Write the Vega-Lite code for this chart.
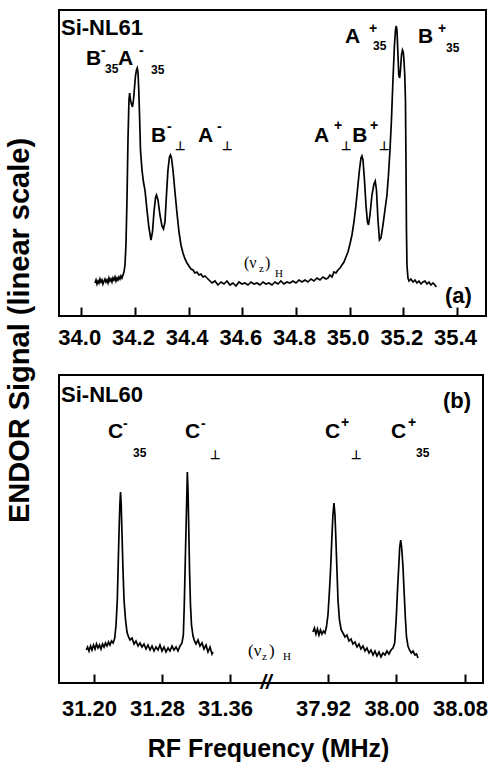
{
"$schema": "https://vega.github.io/schema/vega-lite/v6.json",
"background": "white",
"padding": {"left": 3, "top": 9, "right": 0, "bottom": 0},
"config": {
  "view": {"stroke": "black", "strokeWidth": 2},
  "font": "Liberation Sans",
  "text": {"fill": "black"},
  "axis": {"labelFont": "Liberation Sans", "labelFontWeight": "bold", "labelColor": "black", "titleFont": "Liberation Sans", "titleFontWeight": "bold", "titleColor": "black", "domainColor": "black", "tickColor": "black", "grid": false}
},
"datasets": {
  "top": [
{"f":34.0510,"s":33},{"f":34.0548,"s":36},{"f":34.0585,"s":32},{"f":34.0622,"s":35},{"f":34.0659,"s":33},{"f":34.0697,"s":37},{"f":34.0734,"s":34},{"f":34.0771,"s":36},{"f":34.0808,"s":32},{"f":34.0846,"s":35},{"f":34.0883,"s":37},{"f":34.0920,"s":34},{"f":34.0958,"s":36},{"f":34.0995,"s":33},{"f":34.1032,"s":38},{"f":34.1069,"s":35},{"f":34.1107,"s":37},{"f":34.1144,"s":34},{"f":34.1181,"s":38},{"f":34.1218,"s":36},{"f":34.1256,"s":39},{"f":34.1293,"s":35},{"f":34.1330,"s":38},{"f":34.1367,"s":36},{"f":34.1405,"s":39},{"f":34.1442,"s":37},{"f":34.1479,"s":40},{"f":34.1516,"s":38},{"f":34.1554,"s":41},{"f":34.1591,"s":44},{"f":34.1628,"s":51},{"f":34.1665,"s":71},{"f":34.1703,"s":116},{"f":34.1740,"s":176},{"f":34.1777,"s":216},{"f":34.1803,"s":223},{"f":34.1833,"s":216},{"f":34.1870,"s":212},{"f":34.1908,"s":209},{"f":34.1945,"s":216},{"f":34.1982,"s":228},{"f":34.2019,"s":240},{"f":34.2057,"s":246},{"f":34.2086,"s":248},{"f":34.2113,"s":244},{"f":34.2142,"s":226},{"f":34.2176,"s":196},{"f":34.2206,"s":166},{"f":34.2262,"s":146},{"f":34.2317,"s":134},{"f":34.2373,"s":126},{"f":34.2448,"s":106},{"f":34.2522,"s":88},{"f":34.2597,"s":76},{"f":34.2653,"s":84},{"f":34.2709,"s":104},{"f":34.2765,"s":118},{"f":34.2802,"s":121},{"f":34.2858,"s":116},{"f":34.2932,"s":101},{"f":34.3007,"s":90},{"f":34.3063,"s":87},{"f":34.3119,"s":94},{"f":34.3174,"s":121},{"f":34.3230,"s":146},{"f":34.3286,"s":159},{"f":34.3323,"s":161},{"f":34.3361,"s":158},{"f":34.3417,"s":146},{"f":34.3491,"s":124},{"f":34.3566,"s":103},{"f":34.3640,"s":84},{"f":34.3715,"s":71},{"f":34.3789,"s":63},{"f":34.3864,"s":57},{"f":34.3938,"s":53},{"f":34.4013,"s":50},{"f":34.4087,"s":47},{"f":34.4162,"s":46},{"f":34.4236,"s":43},{"f":34.4311,"s":44},{"f":34.4385,"s":41},{"f":34.4460,"s":42},{"f":34.4534,"s":39},{"f":34.4609,"s":40},{"f":34.4683,"s":38},
{"f":34.4758,"s":36},{"f":34.4870,"s":33},{"f":34.4981,"s":35},{"f":34.5093,"s":31},{"f":34.5205,"s":34},{"f":34.5317,"s":32},{"f":34.5428,"s":35},{"f":34.5540,"s":31},{"f":34.5652,"s":33},{"f":34.5764,"s":30},{"f":34.5876,"s":34},{"f":34.5987,"s":32},{"f":34.6099,"s":33},{"f":34.6211,"s":31},{"f":34.6323,"s":34},{"f":34.6434,"s":32},{"f":34.6546,"s":33},{"f":34.6658,"s":31},{"f":34.6770,"s":34},{"f":34.6882,"s":32},{"f":34.6993,"s":33},{"f":34.7105,"s":31},{"f":34.7217,"s":34},{"f":34.7329,"s":32},{"f":34.7440,"s":35},{"f":34.7552,"s":32},{"f":34.7664,"s":34},{"f":34.7776,"s":33},{"f":34.7888,"s":35},{"f":34.7999,"s":33},{"f":34.8111,"s":36},{"f":34.8223,"s":34},{"f":34.8335,"s":36},{"f":34.8446,"s":34},{"f":34.8558,"s":37},{"f":34.8670,"s":35},{"f":34.8782,"s":38},{"f":34.8894,"s":36},{"f":34.9005,"s":39},{"f":34.9117,"s":37},
{"f":34.9192,"s":38},{"f":34.9266,"s":41},{"f":34.9341,"s":39},{"f":34.9415,"s":44},{"f":34.9490,"s":43},{"f":34.9564,"s":46},{"f":34.9639,"s":48},{"f":34.9713,"s":51},{"f":34.9788,"s":54},{"f":34.9862,"s":59},{"f":34.9937,"s":64},{"f":35.0011,"s":72},{"f":35.0086,"s":81},{"f":35.0160,"s":94},{"f":35.0235,"s":111},{"f":35.0309,"s":131},{"f":35.0365,"s":146},{"f":35.0421,"s":158},{"f":35.0458,"s":160},{"f":35.0496,"s":156},{"f":35.0552,"s":136},{"f":35.0607,"s":111},{"f":35.0663,"s":94},{"f":35.0701,"s":91},{"f":35.0756,"s":101},{"f":35.0831,"s":121},{"f":35.0905,"s":132},{"f":35.0954,"s":135},{"f":35.0999,"s":126},{"f":35.1055,"s":96},{"f":35.1110,"s":76},{"f":35.1166,"s":78},{"f":35.1241,"s":91},{"f":35.1315,"s":106},{"f":35.1390,"s":121},{"f":35.1446,"s":141},{"f":35.1502,"s":166},{"f":35.1557,"s":196},{"f":35.1613,"s":236},{"f":35.1669,"s":271},{"f":35.1707,"s":286},{"f":35.1736,"s":290},{"f":35.1762,"s":286},{"f":35.1800,"s":261},{"f":35.1830,"s":241},{"f":35.1863,"s":238},{"f":35.1893,"s":246},{"f":35.1930,"s":261},{"f":35.1967,"s":266},{"f":35.1997,"s":264},{"f":35.2023,"s":256},{"f":35.2053,"s":241},{"f":35.2079,"s":216},{"f":35.2098,"s":156},{"f":35.2116,"s":86},{"f":35.2135,"s":51},{"f":35.2172,"s":38},{"f":35.2210,"s":35},{"f":35.2284,"s":37},{"f":35.2359,"s":34},{"f":35.2433,"s":36},{"f":35.2508,"s":33},{"f":35.2582,"s":35},{"f":35.2657,"s":32},{"f":35.2731,"s":34},{"f":35.2806,"s":35},{"f":35.2880,"s":32},{"f":35.2955,"s":34},{"f":35.3029,"s":31},{"f":35.3104,"s":33},{"f":35.3178,"s":31},{"f":35.3227,"s":29}
  ],
  "bot": [
{"seg":"L","f":31.1909,"s":33},{"seg":"L","f":31.1924,"s":36},{"seg":"L","f":31.1941,"s":32},{"seg":"L","f":31.1959,"s":37},{"seg":"L","f":31.1976,"s":33},{"seg":"L","f":31.1994,"s":38},{"seg":"L","f":31.2012,"s":34},{"seg":"L","f":31.2029,"s":39},{"seg":"L","f":31.2047,"s":35},{"seg":"L","f":31.2065,"s":38},{"seg":"L","f":31.2082,"s":34},{"seg":"L","f":31.2100,"s":39},{"seg":"L","f":31.2118,"s":36},{"seg":"L","f":31.2135,"s":40},{"seg":"L","f":31.2153,"s":37},{"seg":"L","f":31.2171,"s":41},{"seg":"L","f":31.2188,"s":38},{"seg":"L","f":31.2206,"s":42},{"seg":"L","f":31.2224,"s":40},{"seg":"L","f":31.2244,"s":45},{"seg":"L","f":31.2259,"s":58},{"seg":"L","f":31.2274,"s":83},{"seg":"L","f":31.2286,"s":123},{"seg":"L","f":31.2294,"s":150},{"seg":"L","f":31.2304,"s":178},{"seg":"L","f":31.2312,"s":191},{"seg":"L","f":31.2320,"s":178},{"seg":"L","f":31.2329,"s":150},{"seg":"L","f":31.2341,"s":113},{"seg":"L","f":31.2353,"s":83},{"seg":"L","f":31.2371,"s":63},{"seg":"L","f":31.2388,"s":51},{"seg":"L","f":31.2406,"s":46},{"seg":"L","f":31.2424,"s":43},{"seg":"L","f":31.2447,"s":45},{"seg":"L","f":31.2471,"s":39},{"seg":"L","f":31.2494,"s":42},{"seg":"L","f":31.2518,"s":37},{"seg":"L","f":31.2541,"s":40},{"seg":"L","f":31.2565,"s":36},{"seg":"L","f":31.2588,"s":39},{"seg":"L","f":31.2612,"s":34},{"seg":"L","f":31.2635,"s":38},{"seg":"L","f":31.2659,"s":33},{"seg":"L","f":31.2682,"s":37},{"seg":"L","f":31.2706,"s":32},{"seg":"L","f":31.2729,"s":36},{"seg":"L","f":31.2753,"s":33},{"seg":"L","f":31.2776,"s":38},{"seg":"L","f":31.2800,"s":32},{"seg":"L","f":31.2824,"s":36},{"seg":"L","f":31.2847,"s":31},{"seg":"L","f":31.2871,"s":35},{"seg":"L","f":31.2894,"s":32},{"seg":"L","f":31.2918,"s":37},{"seg":"L","f":31.2941,"s":33},{"seg":"L","f":31.2965,"s":36},{"seg":"L","f":31.2988,"s":32},{"seg":"L","f":31.3012,"s":37},{"seg":"L","f":31.3035,"s":40},{"seg":"L","f":31.3051,"s":48},{"seg":"L","f":31.3062,"s":78},{"seg":"L","f":31.3074,"s":123},{"seg":"L","f":31.3086,"s":166},{"seg":"L","f":31.3098,"s":211},{"seg":"L","f":31.3106,"s":193},{"seg":"L","f":31.3114,"s":158},{"seg":"L","f":31.3124,"s":113},{"seg":"L","f":31.3135,"s":78},{"seg":"L","f":31.3147,"s":58},{"seg":"L","f":31.3165,"s":47},{"seg":"L","f":31.3182,"s":42},{"seg":"L","f":31.3200,"s":39},{"seg":"L","f":31.3224,"s":43},{"seg":"L","f":31.3247,"s":37},{"seg":"L","f":31.3271,"s":40},{"seg":"L","f":31.3294,"s":34},{"seg":"L","f":31.3318,"s":38},{"seg":"L","f":31.3341,"s":31},{"seg":"L","f":31.3365,"s":36},{"seg":"L","f":31.3388,"s":29},{"seg":"L","f":31.3400,"s":31},
{"seg":"R","f":37.9025,"s":51},{"seg":"R","f":37.9042,"s":55},{"seg":"R","f":37.9060,"s":49},{"seg":"R","f":37.9077,"s":54},{"seg":"R","f":37.9095,"s":48},{"seg":"R","f":37.9112,"s":53},{"seg":"R","f":37.9130,"s":49},{"seg":"R","f":37.9147,"s":52},{"seg":"R","f":37.9165,"s":50},{"seg":"R","f":37.9182,"s":56},{"seg":"R","f":37.9200,"s":68},{"seg":"R","f":37.9218,"s":93},{"seg":"R","f":37.9232,"s":116},{"seg":"R","f":37.9247,"s":148},{"seg":"R","f":37.9258,"s":168},{"seg":"R","f":37.9270,"s":180},{"seg":"R","f":37.9282,"s":168},{"seg":"R","f":37.9290,"s":150},{"seg":"R","f":37.9303,"s":118},{"seg":"R","f":37.9317,"s":83},{"seg":"R","f":37.9334,"s":63},{"seg":"R","f":37.9355,"s":53},{"seg":"R","f":37.9375,"s":50},{"seg":"R","f":37.9399,"s":46},{"seg":"R","f":37.9422,"s":48},{"seg":"R","f":37.9445,"s":42},{"seg":"R","f":37.9469,"s":44},{"seg":"R","f":37.9492,"s":39},{"seg":"R","f":37.9515,"s":41},{"seg":"R","f":37.9539,"s":36},{"seg":"R","f":37.9562,"s":39},{"seg":"R","f":37.9585,"s":34},{"seg":"R","f":37.9609,"s":37},{"seg":"R","f":37.9632,"s":32},{"seg":"R","f":37.9655,"s":35},{"seg":"R","f":37.9679,"s":30},{"seg":"R","f":37.9702,"s":33},{"seg":"R","f":37.9726,"s":28},{"seg":"R","f":37.9749,"s":32},{"seg":"R","f":37.9772,"s":27},{"seg":"R","f":37.9796,"s":31},{"seg":"R","f":37.9819,"s":26},{"seg":"R","f":37.9842,"s":30},{"seg":"R","f":37.9866,"s":28},{"seg":"R","f":37.9889,"s":32},{"seg":"R","f":37.9912,"s":29},{"seg":"R","f":37.9936,"s":33},{"seg":"R","f":37.9959,"s":35},{"seg":"R","f":37.9979,"s":40},{"seg":"R","f":37.9998,"s":66},{"seg":"R","f":38.0012,"s":93},{"seg":"R","f":38.0026,"s":116},{"seg":"R","f":38.0037,"s":135},{"seg":"R","f":38.0049,"s":143},{"seg":"R","f":38.0061,"s":135},{"seg":"R","f":38.0076,"s":116},{"seg":"R","f":38.0088,"s":93},{"seg":"R","f":38.0103,"s":66},{"seg":"R","f":38.0117,"s":46},{"seg":"R","f":38.0134,"s":37},{"seg":"R","f":38.0152,"s":33},{"seg":"R","f":38.0173,"s":30},{"seg":"R","f":38.0193,"s":32},{"seg":"R","f":38.0216,"s":28},{"seg":"R","f":38.0234,"s":29},{"seg":"R","f":38.0251,"s":25}
  ],
  "topLab": [
{"f":33.9244,"s":281,"t":"Si-NL61","k":"T"},{"f":35.3549,"s":13,"t":"(a)","k":"T"},
{"f":34.0175,"s":251,"t":"B","k":"m"},{"f":34.0738,"s":261,"t":"-","k":"p"},{"f":34.0883,"s":243,"t":"35","k":"b"},
{"f":34.1367,"s":251,"t":"A","k":"m"},{"f":34.2150,"s":261,"t":"-","k":"p"},{"f":34.2597,"s":242,"t":"35","k":"b"},
{"f":34.2597,"s":174,"t":"B","k":"m"},{"f":34.3193,"s":185,"t":"-","k":"p"},{"f":34.3491,"s":166,"t":"⊥","k":"b"},
{"f":34.4348,"s":174,"t":"A","k":"m"},{"f":34.5056,"s":185,"t":"-","k":"p"},{"f":34.5242,"s":166,"t":"⊥","k":"b"},
{"f":34.8670,"s":174,"t":"A","k":"m"},{"f":34.9420,"s":186,"t":"+","k":"p"},{"f":34.9660,"s":166,"t":"⊥","k":"b"},
{"f":35.0100,"s":174,"t":"B","k":"m"},{"f":35.0760,"s":186,"t":"+","k":"p"},{"f":35.1110,"s":166,"t":"⊥","k":"b"},
{"f":34.9825,"s":273,"t":"A","k":"m"},{"f":35.0720,"s":283,"t":"+","k":"p"},{"f":35.0869,"s":266,"t":"35","k":"b"},
{"f":35.2545,"s":273,"t":"B","k":"m"},{"f":35.3290,"s":283,"t":"+","k":"p"},{"f":35.3588,"s":264,"t":"35","k":"b"},
{"f":34.6062,"s":48,"t":"(ν","k":"n"},{"f":34.6621,"s":44,"t":"z","k":"h"},{"f":34.6844,"s":48,"t":")","k":"n"},{"f":34.7217,"s":39,"t":"H","k":"h"}
  ],
  "botLab": [
{"f":31.1612,"s":281,"t":"Si-NL60","k":"T"},{"f":38.0543,"s":275,"t":"(b)","k":"T"},
{"f":31.2165,"s":245,"t":"C","k":"m"},{"f":31.2341,"s":255,"t":"-","k":"p"},{"f":31.2459,"s":226,"t":"35","k":"b"},
{"f":31.3071,"s":245,"t":"C","k":"m"},{"f":31.3259,"s":255,"t":"-","k":"p"},{"f":31.3365,"s":224,"t":"⊥","k":"b"},
{"f":37.9165,"s":245,"t":"C","k":"m"},{"f":37.9352,"s":256,"t":"+","k":"p"},{"f":37.9469,"s":224,"t":"⊥","k":"b"},
{"f":37.9936,"s":245,"t":"C","k":"m"},{"f":38.0134,"s":256,"t":"+","k":"p"},{"f":38.0228,"s":226,"t":"35","k":"b"},
{"f":31.3812,"s":27,"t":"(ν","k":"n"},{"f":31.3976,"s":23,"t":"z","k":"h"},{"f":37.8511,"s":27,"t":")","k":"n"},{"f":37.8674,"s":23,"t":"H","k":"h"},
{"f":34.6,"s":0,"t":"//","k":"x"}
  ]
},
"bounds": "flush",
"spacing": 59,
"vconcat": [
{
  "width": 427, "height": 306,
  "layer": [
    {"data": {"name": "top"},
     "mark": {"type": "line", "color": "black", "strokeWidth": 1.7},
     "encoding": {
       "x": {"field": "f", "type": "quantitative", "scale": {"domain": [33.917, 35.508], "nice": false, "zero": false},
             "axis": {"values": [34.0, 34.2, 34.4, 34.6, 34.8, 35.0, 35.2, 35.4], "format": ".1f", "title": null, "domain": false, "tickSize": -9, "tickWidth": 2, "labelFontSize": 22, "labelPadding": 20, "labelOffset": -2}},
       "y": {"field": "s", "type": "quantitative", "scale": {"domain": [0, 306], "nice": false, "zero": false},
             "axis": {"labels": false, "ticks": false, "domain": false, "title": "ENDOR Signal (linear scale)", "titleFontSize": 29, "titleAngle": 270, "titleX": -31, "titleY": 320, "titleBaseline": "alphabetic", "titleAlign": "center"}}
     }},
    {"data": {"name": "topLab"}, "transform": [{"filter": "datum.k == 'T'"}],
     "mark": {"type": "text", "align": "left", "baseline": "alphabetic", "fontSize": 22, "fontWeight": "bold", "color": "black", "fill": "black"},
     "encoding": {"x": {"field": "f", "type": "quantitative"}, "y": {"field": "s", "type": "quantitative"}, "text": {"field": "t"}}},
    {"data": {"name": "topLab"}, "transform": [{"filter": "datum.k == 'm'"}],
     "mark": {"type": "text", "align": "left", "baseline": "alphabetic", "fontSize": 21, "fontWeight": "bold", "color": "black", "fill": "black"},
     "encoding": {"x": {"field": "f", "type": "quantitative"}, "y": {"field": "s", "type": "quantitative"}, "text": {"field": "t"}}},
    {"data": {"name": "topLab"}, "transform": [{"filter": "datum.k == 'p'"}],
     "mark": {"type": "text", "align": "left", "baseline": "alphabetic", "fontSize": 14, "fontWeight": "bold", "color": "black", "fill": "black"},
     "encoding": {"x": {"field": "f", "type": "quantitative"}, "y": {"field": "s", "type": "quantitative"}, "text": {"field": "t"}}},
    {"data": {"name": "topLab"}, "transform": [{"filter": "datum.k == 'b'"}],
     "mark": {"type": "text", "align": "left", "baseline": "alphabetic", "fontSize": 12, "fontWeight": "bold", "color": "black", "fill": "black"},
     "encoding": {"x": {"field": "f", "type": "quantitative"}, "y": {"field": "s", "type": "quantitative"}, "text": {"field": "t"}}},
    {"data": {"name": "topLab"}, "transform": [{"filter": "datum.k == 'n'"}],
     "mark": {"type": "text", "align": "left", "baseline": "alphabetic", "fontSize": 16, "font": "Liberation Serif", "color": "black", "fill": "black"},
     "encoding": {"x": {"field": "f", "type": "quantitative"}, "y": {"field": "s", "type": "quantitative"}, "text": {"field": "t"}}},
    {"data": {"name": "topLab"}, "transform": [{"filter": "datum.k == 'h'"}],
     "mark": {"type": "text", "align": "left", "baseline": "alphabetic", "fontSize": 11, "font": "Liberation Serif", "color": "black", "fill": "black"},
     "encoding": {"x": {"field": "f", "type": "quantitative"}, "y": {"field": "s", "type": "quantitative"}, "text": {"field": "t"}}}
  ]
},
{
  "width": 424, "height": 308,
  "layer": [
    {"data": {"name": "bot"},
     "mark": {"type": "line", "color": "black", "strokeWidth": 1.7},
     "encoding": {
       "x": {"field": "f", "type": "quantitative", "scale": {"domain": [31.1588, 31.40, 37.85, 38.101], "range": [0, 205, 209, 424], "nice": false, "zero": false},
             "axis": {"values": [31.20, 31.28, 31.36, 37.92, 38.00, 38.08], "format": ".2f", "domain": false, "tickSize": -9, "tickWidth": 2, "labelFontSize": 22, "labelPadding": 24, "labelOffset": -5, "title": "RF Frequency (MHz)", "titleFontSize": 25, "titleX": 209, "titleY": 73, "titleBaseline": "alphabetic"}},
       "y": {"field": "s", "type": "quantitative", "scale": {"domain": [0, 308], "nice": false, "zero": false}, "axis": null},
       "detail": {"field": "seg"}
     }},
    {"data": {"name": "botLab"}, "transform": [{"filter": "datum.k == 'T'"}],
     "mark": {"type": "text", "align": "left", "baseline": "alphabetic", "fontSize": 22, "fontWeight": "bold", "color": "black", "fill": "black"},
     "encoding": {"x": {"field": "f", "type": "quantitative"}, "y": {"field": "s", "type": "quantitative"}, "text": {"field": "t"}}},
    {"data": {"name": "botLab"}, "transform": [{"filter": "datum.k == 'm'"}],
     "mark": {"type": "text", "align": "left", "baseline": "alphabetic", "fontSize": 21, "fontWeight": "bold", "color": "black", "fill": "black"},
     "encoding": {"x": {"field": "f", "type": "quantitative"}, "y": {"field": "s", "type": "quantitative"}, "text": {"field": "t"}}},
    {"data": {"name": "botLab"}, "transform": [{"filter": "datum.k == 'p'"}],
     "mark": {"type": "text", "align": "left", "baseline": "alphabetic", "fontSize": 14, "fontWeight": "bold", "color": "black", "fill": "black"},
     "encoding": {"x": {"field": "f", "type": "quantitative"}, "y": {"field": "s", "type": "quantitative"}, "text": {"field": "t"}}},
    {"data": {"name": "botLab"}, "transform": [{"filter": "datum.k == 'b'"}],
     "mark": {"type": "text", "align": "left", "baseline": "alphabetic", "fontSize": 12, "fontWeight": "bold", "color": "black", "fill": "black"},
     "encoding": {"x": {"field": "f", "type": "quantitative"}, "y": {"field": "s", "type": "quantitative"}, "text": {"field": "t"}}},
    {"data": {"name": "botLab"}, "transform": [{"filter": "datum.k == 'n'"}],
     "mark": {"type": "text", "align": "left", "baseline": "alphabetic", "fontSize": 17, "font": "Liberation Serif", "color": "black", "fill": "black"},
     "encoding": {"x": {"field": "f", "type": "quantitative"}, "y": {"field": "s", "type": "quantitative"}, "text": {"field": "t"}}},
    {"data": {"name": "botLab"}, "transform": [{"filter": "datum.k == 'h'"}],
     "mark": {"type": "text", "align": "left", "baseline": "alphabetic", "fontSize": 11, "font": "Liberation Serif", "color": "black", "fill": "black"},
     "encoding": {"x": {"field": "f", "type": "quantitative"}, "y": {"field": "s", "type": "quantitative"}, "text": {"field": "t"}}},
    {"data": {"name": "botLab"}, "transform": [{"filter": "datum.k == 'x'"}],
     "mark": {"type": "text", "align": "center", "baseline": "middle", "fontSize": 20, "fontWeight": "bold", "fontStyle": "italic", "color": "black", "fill": "black"},
     "encoding": {"x": {"field": "f", "type": "quantitative"}, "y": {"field": "s", "type": "quantitative"}, "text": {"field": "t"}}}
  ]
}
]
}
